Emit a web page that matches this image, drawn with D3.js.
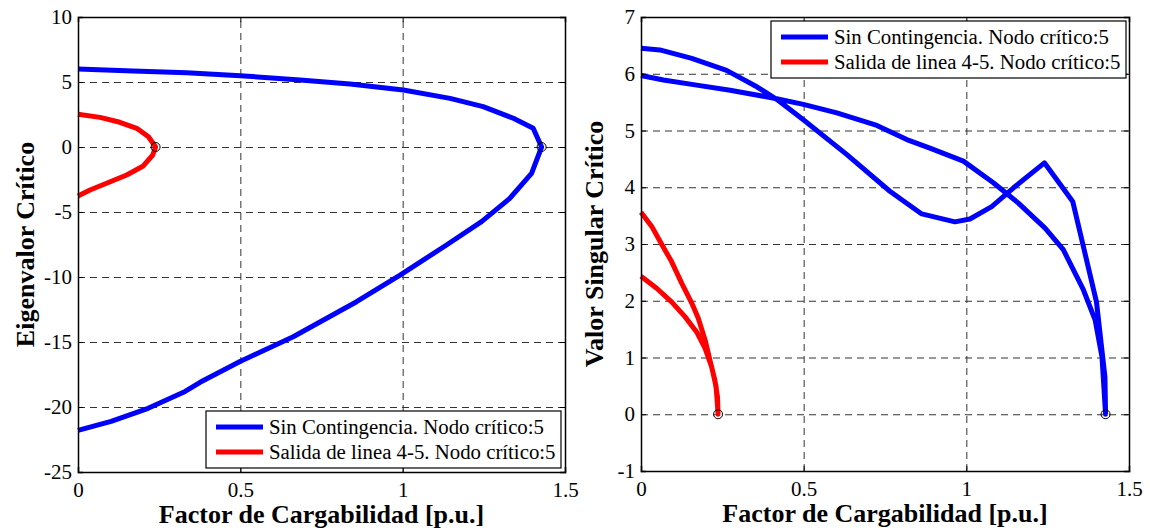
<!doctype html>
<html>
<head>
<meta charset="utf-8">
<style>
  body { margin: 0; background: #fff; }
  svg text { font-family: "Liberation Serif", "Times New Roman", serif; }
</style>
</head>
<body>
<svg id="chart" width="1152" height="531"></svg>
<script src="https://d3js.org/d3.v7.min.js"></script>
<script>
// ticks
const xTicks = [0, 0.5, 1, 1.5];
const eigTicks = [-25, -20, -15, -10, -5, 0, 5, 10];
const svTicks = [-1, 0, 1, 2, 3, 4, 5, 6, 7];

const seriesNames = ["Sin Contingencia. Nodo crítico:5", "Salida de linea 4-5. Nodo crítico:5"];
const seriesColors = ["#0000ff", "#ff0000"];

// left panel: critical eigenvalue vs loading factor (upper branch -> nose -> lower branch)
const eigBase = [
  [0, 6.0], [0.17, 5.85], [0.335, 5.72], [0.5, 5.49], [0.684, 5.15], [0.838, 4.85],
  [1.002, 4.38], [1.146, 3.74], [1.248, 3.10], [1.341, 2.21], [1.402, 1.44], [1.428, 0],
  [1.397, -2.03], [1.33, -3.95], [1.243, -5.74], [1.135, -7.54], [0.992, -9.85],
  [0.858, -11.9], [0.663, -14.6], [0.499, -16.5], [0.376, -18.1], [0.33, -18.8],
  [0.216, -20.1], [0.102, -21.1], [0, -21.8]
];
const eigOutage = [
  [0, 2.52], [0.068, 2.28], [0.129, 1.9], [0.181, 1.44], [0.217, 0.79], [0.235, 0.15],
  [0.239, 0], [0.23, -0.62], [0.201, -1.46], [0.15, -2.15], [0.088, -2.79],
  [0.037, -3.31], [0, -3.77]
];
const eigNose = [[1.428, 0], [0.239, 0]];

// right panel: critical singular value vs loading factor
const svBase = [
  [0, 6.45], [0.058, 6.42], [0.156, 6.27], [0.263, 6.06], [0.356, 5.77], [0.417, 5.55],
  [0.499, 5.19], [0.632, 4.58], [0.765, 3.93], [0.863, 3.53], [0.965, 3.39], [1.011, 3.44],
  [1.078, 3.66], [1.145, 3.99], [1.24, 4.43], [1.327, 3.75], [1.40, 1.98], [1.426, 0.66],
  [1.428, 0], [1.417, 1.01], [1.396, 1.66], [1.36, 2.19], [1.298, 2.9], [1.242, 3.28],
  [1.16, 3.72], [1.083, 4.08], [0.991, 4.46], [0.888, 4.69], [0.817, 4.84], [0.725, 5.09],
  [0.602, 5.31], [0.499, 5.46], [0.417, 5.56], [0.274, 5.71], [0.171, 5.8], [0.069, 5.89],
  [0, 5.97]
];
const svOutage = [
  [0, 3.56], [0.033, 3.31], [0.064, 2.99], [0.094, 2.69], [0.125, 2.31], [0.156, 1.96],
  [0.176, 1.69], [0.197, 1.31], [0.212, 0.95], [0.227, 0.6], [0.235, 0.31], [0.237, 0],
  [0.231, 0.48], [0.217, 0.84], [0.197, 1.16], [0.171, 1.45], [0.135, 1.72],
  [0.094, 1.98], [0.048, 2.22], [0, 2.43]
];
const svNose = [[1.428, 0], [0.237, 0]];

const svg = d3.select("#chart");

function drawPanel(p) {
  const w = p.x1 - p.x0, h = p.y1 - p.y0;
  const g = svg.append("g").attr("transform", "translate(" + p.x0 + "," + p.y0 + ")");
  const x = d3.scaleLinear().domain([0, 1.5]).range([0, w]);
  const y = d3.scaleLinear().domain(p.yDomain).range([h, 0]);

  // grid
  g.append("g")
    .attr("transform", "translate(0," + h + ")")
    .call(d3.axisBottom(x).tickValues(xTicks.slice(1, -1)).tickSize(-h).tickFormat(""))
    .call(a => a.select(".domain").remove())
    .selectAll("line").attr("stroke", "#333").attr("stroke-dasharray", "7,5");
  g.append("g")
    .call(d3.axisLeft(y).tickValues(p.yTicks.slice(1, -1)).tickSize(-w).tickFormat(""))
    .call(a => a.select(".domain").remove())
    .selectAll("line").attr("stroke", "#333").attr("stroke-dasharray", "7,5");

  // curves
  const line = d3.line().x(d => x(d[0])).y(d => y(d[1]));
  p.series.forEach((s, i) => {
    g.append("path")
      .datum(s)
      .attr("fill", "none")
      .attr("stroke", seriesColors[i])
      .attr("stroke-width", 5)
      .attr("stroke-linejoin", "round")
      .attr("d", line);
  });
  g.selectAll(".nose")
    .data(p.nose)
    .join("circle")
    .attr("cx", d => x(d[0]))
    .attr("cy", d => y(d[1]))
    .attr("r", 4.5)
    .attr("fill", "none")
    .attr("stroke", "#000")
    .attr("stroke-width", 1);

  // axes with inward ticks
  const fmt = d => String(d);
  g.append("g").attr("transform", "translate(0," + h + ")")
    .call(d3.axisBottom(x).tickValues(xTicks).tickSize(-5).tickPadding(9).tickFormat(fmt))
    .call(a => a.selectAll("text").attr("font-size", 21).attr("fill", "#000").attr("dy", "0.75em"));
  g.append("g")
    .call(d3.axisLeft(y).tickValues(p.yTicks).tickSize(-5).tickPadding(6).tickFormat(fmt))
    .call(a => a.selectAll("text").attr("font-size", 21).attr("fill", "#000"));
  g.append("g")
    .call(d3.axisTop(x).tickValues(xTicks).tickSize(-5).tickFormat(""));
  g.append("g").attr("transform", "translate(" + w + ",0)")
    .call(d3.axisRight(y).tickValues(p.yTicks).tickSize(-5).tickFormat(""));
  g.selectAll(".domain").attr("stroke", "#000").attr("stroke-width", 1.5);

  // titles
  g.append("text")
    .attr("x", w / 2).attr("y", h + 51)
    .attr("text-anchor", "middle")
    .attr("font-size", 26).attr("font-weight", "bold")
    .text("Factor de Cargabilidad [p.u.]");
  g.append("text")
    .attr("transform", "translate(" + p.titleX + "," + h / 2 + ") rotate(-90)")
    .attr("text-anchor", "middle")
    .attr("font-size", 26).attr("font-weight", "bold")
    .text(p.yTitle);

  // legend
  const lg = g.append("g").attr("transform", "translate(" + (p.legend[0] - p.x0) + "," + (p.legend[1] - p.y0) + ")");
  lg.append("rect")
    .attr("width", 355).attr("height", 57)
    .attr("fill", "#fff").attr("stroke", "#000").attr("stroke-width", 1.2);
  seriesNames.forEach((n, i) => {
    const cy = 16 + i * 25;
    lg.append("line")
      .attr("x1", 10).attr("x2", 57).attr("y1", cy).attr("y2", cy)
      .attr("stroke", seriesColors[i]).attr("stroke-width", 5);
    lg.append("text")
      .attr("x", 63).attr("y", cy).attr("dy", "0.35em")
      .attr("font-size", 20.8)
      .text(n);
  });
}

drawPanel({
  x0: 78, x1: 565, y0: 17, y1: 472,
  yDomain: [-25, 10], yTicks: eigTicks,
  series: [eigBase, eigOutage], nose: eigNose,
  yTitle: "Eigenvalor Crítico", titleX: -44,
  legend: [206, 411]
});
drawPanel({
  x0: 641, x1: 1129, y0: 17, y1: 471,
  yDomain: [-1, 7], yTicks: svTicks,
  series: [svBase, svOutage], nose: svNose,
  yTitle: "Valor Singular Crítico", titleX: -38,
  legend: [771, 21]
});
</script>
</body>
</html>
